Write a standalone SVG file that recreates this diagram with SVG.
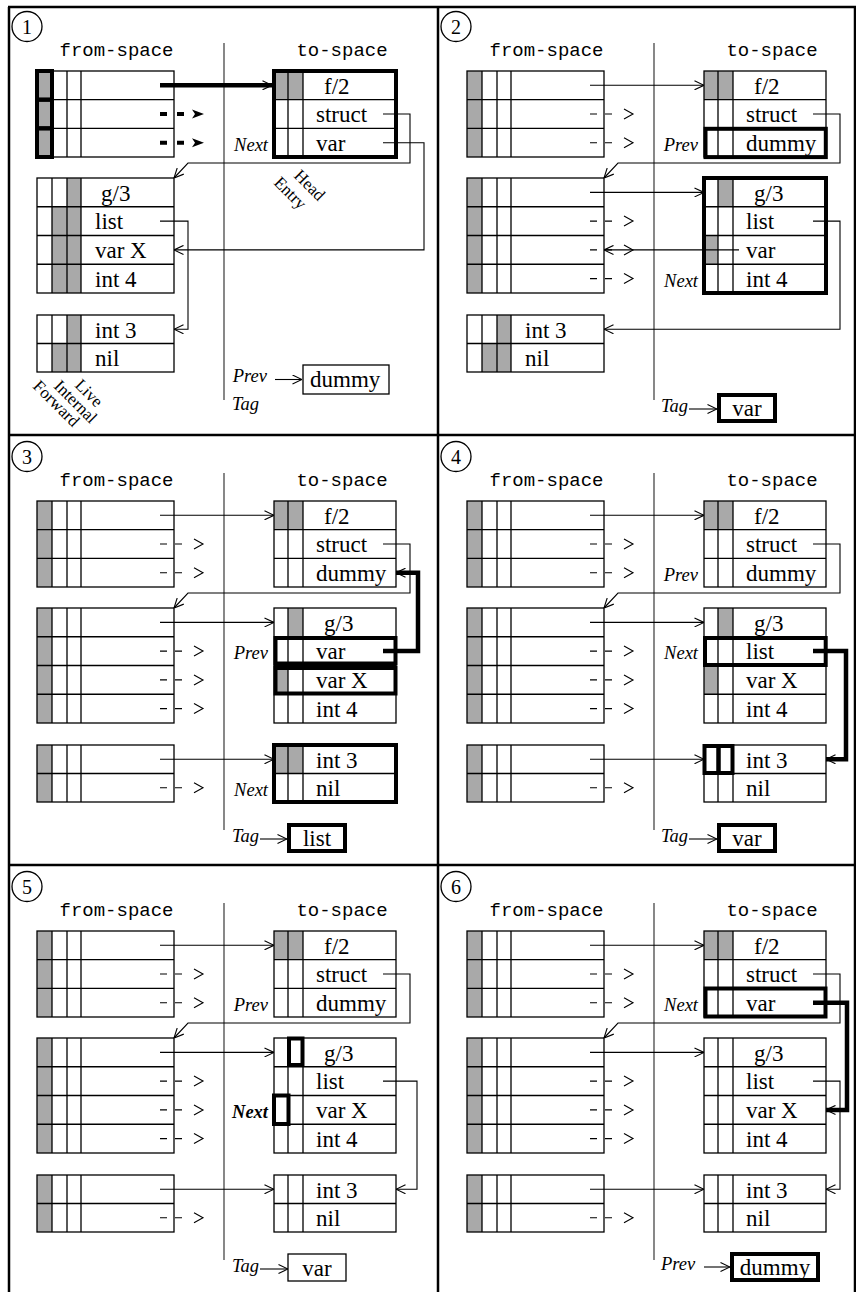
<svg xmlns="http://www.w3.org/2000/svg" width="856" height="1292" viewBox="0 0 856 1292">
<style>
.b{fill:none;stroke:#000;stroke-width:1.3}
.gy{fill:#a9a9a9;stroke:none}
.tk{fill:none;stroke:#000;stroke-width:4}
.ln{fill:none;stroke:#000;stroke-width:1.1}
.tkl{fill:none;stroke:#000;stroke-width:4.5}
.dv{stroke:#555;stroke-width:1.4}
.fr{fill:none;stroke:#000;stroke-width:2.5}
.ar{marker-end:url(#ah)}
text{fill:#000}
.m{font-family:"Liberation Mono","DejaVu Sans Mono",monospace;font-size:19px;text-anchor:middle}
.c{font-family:"Liberation Serif","Times New Roman",serif;font-size:23px}
.i{font-family:"Liberation Serif","Times New Roman",serif;font-size:18.5px;font-style:italic}
.e{text-anchor:end}
.mid{text-anchor:middle}
.bd{font-weight:bold}
.n{font-family:"Liberation Serif","Times New Roman",serif;font-size:20px;text-anchor:middle}
.r{font-family:"Liberation Serif","Times New Roman",serif;font-size:17px}
</style>
<defs>
<marker id="ah" viewBox="0 0 10 10" refX="10" refY="5" markerWidth="10" markerHeight="10" markerUnits="userSpaceOnUse" orient="auto"><path d="M0.5,0.5L10,5L0.5,9.5" fill="none" stroke="#000" stroke-width="1.1"/></marker>
<g id="fg3" class="b"><rect width="137" height="86"/><path d="M0,28.67H137M0,57.33H137M15,0V86M30,0V86M44,0V86"/></g>
<g id="fg4" class="b"><rect width="137" height="115"/><path d="M0,28.75H137M0,57.5H137M0,86.25H137M15,0V115M30,0V115M44,0V115"/></g>
<g id="fg2" class="b"><rect width="137" height="57"/><path d="M0,28.5H137M15,0V57M30,0V57M44,0V57"/></g>
<g id="tg3" class="b"><rect width="122" height="86"/><path d="M0,28.67H122M0,57.33H122M14,0V86M29,0V86"/></g>
<g id="tg4" class="b"><rect width="122" height="115"/><path d="M0,28.75H122M0,57.5H122M0,86.25H122M14,0V115M29,0V115"/></g>
<g id="tg2" class="b"><rect width="122" height="57"/><path d="M0,28.5H122M14,0V57M29,0V57"/></g>
<g id="fA"><rect class="gy" width="15" height="86"/><use href="#fg3"/></g>
<g id="fB"><rect class="gy" width="15" height="115"/><use href="#fg4"/></g>
<g id="fC"><rect class="gy" width="15" height="57"/><use href="#fg2"/></g>
<g id="t1"><rect class="gy" width="29" height="28.67"/><use href="#tg3"/></g>
<g id="da" class="ln"><path d="M160,0H167M175,0H182M194,-5L203,0L194,5"/></g>
<g id="bcAB">
<path class="ln ar" d="M160,85.3H274"/>
<use href="#da" y="114"/><use href="#da" y="142.7"/>
<path class="ln ar" d="M160,192.4H274"/>
<use href="#da" y="221.1"/><use href="#da" y="249.9"/><use href="#da" y="278.6"/>
<path class="ln ar" d="M383,114H410V163H188L174,178"/>
</g>
<g id="bcC">
<path class="ln ar" d="M160,329.25H274"/>
<use href="#da" y="357.75"/>
</g>
</defs>

<g id="frame"><path class="fr" d="M9,7V1292M438,7V1292M855,7V1292M8,7H856M8,435H856M8,865H856"/></g>

<!-- Panel 1 -->
<g id="panel1">
<g id="p1-num"><circle class="b" cx="27" cy="26.5" r="15"/><text class="n" x="27" y="33.5">1</text></g>
<g id="p1-heads"><text class="m" x="116.5" y="56">from-space</text><text class="m" x="342" y="56">to-space</text><line class="dv" x1="224" y1="43" x2="224" y2="400"/></g>
<g id="p1-fromA"><use href="#fA" x="37" y="71"/><rect class="tk" x="37" y="71" width="15" height="28.67"/><rect class="tk" x="37" y="99.67" width="15" height="28.66"/><rect class="tk" x="37" y="128.33" width="15" height="28.67"/></g>
<g id="p1-fromB"><rect class="gy" x="67" y="178" width="14" height="28.75"/><rect class="gy" x="52" y="206.75" width="29" height="86.25"/><use href="#fg4" x="37" y="178"/><text class="c" x="101" y="200.5">g/3</text><text class="c" x="95" y="229.25">list</text><text class="c" x="95" y="258">var X</text><text class="c" x="95" y="286.75">int 4</text></g>
<g id="p1-fromC"><rect class="gy" x="67" y="315" width="14" height="28.5"/><rect class="gy" x="52" y="343.5" width="29" height="28.5"/><use href="#fg2" x="37" y="315"/><text class="c" x="95" y="337.5">int 3</text><text class="c" x="95" y="366">nil</text></g>
<g id="p1-flags"><text class="r" transform="translate(32,387) rotate(45)">Forward</text><text class="r" transform="translate(53,387) rotate(45)">Internal</text><text class="r" transform="translate(74,386) rotate(45)">Live</text></g>
<g id="p1-to1"><use href="#t1" x="274" y="71"/><rect class="tk" x="274" y="71" width="122" height="86"/><text class="c" x="324" y="93.5">f/2</text><text class="c" x="316" y="122.2">struct</text><text class="c" x="316" y="150.8">var</text><text class="i e" x="268" y="150.8">Next</text></g>
<g id="p1-headentry"><text class="r" transform="translate(293,176.5) rotate(45)">Head</text><text class="r" transform="translate(273,183.5) rotate(45)">Entry</text></g>
<g id="p1-prev"><text class="i e" x="267" y="382">Prev</text></g>
<g id="p1-dummy"><rect class="b" x="303" y="365" width="86" height="29"/><text class="c" x="310" y="387">dummy</text></g>
<g id="p1-tag"><text class="i" x="232" y="410">Tag</text></g>
<g id="p1-conn">
<path class="tkl ar" d="M160,85.3H272"/>
<path class="tk" d="M160,114H167M177,114H184M160,142.7H167M177,142.7H184"/>
<path d="M192,109.5L204,114L192,118.5L195,114ZM192,138.2L204,142.7L192,147.2L195,142.7Z" fill="#000"/>
<path class="ln ar" d="M383,114H410V163H188L174,178"/>
<path class="ln ar" d="M383,142.7H424V249.9H174"/>
<path class="ln ar" d="M160,221.1H188V329.25H174"/>
<path class="ln ar" d="M275,379.5H302"/>
</g>
</g>

<!-- Panel 2 -->
<g id="panel2" transform="translate(430,0)">
<g id="p2-num"><circle class="b" cx="26" cy="26.5" r="15"/><text class="n" x="26" y="33.5">2</text></g>
<g id="p2-heads"><text class="m" x="116.5" y="56">from-space</text><text class="m" x="342" y="56">to-space</text><line class="dv" x1="224" y1="43" x2="224" y2="400"/></g>
<g id="p2-fromA"><use href="#fA" x="37" y="71"/></g>
<g id="p2-fromB"><use href="#fB" x="37" y="178"/></g>
<g id="p2-fromC"><rect class="gy" x="67" y="315" width="14" height="28.5"/><rect class="gy" x="52" y="343.5" width="29" height="28.5"/><use href="#fg2" x="37" y="315"/><text class="c" x="95" y="337.5">int 3</text><text class="c" x="95" y="366">nil</text></g>
<g id="p2-to1"><use href="#t1" x="274" y="71"/><rect class="tk" x="275.5" y="128.8" width="120.3" height="28.3"/><text class="c" x="324" y="93.5">f/2</text><text class="c" x="316" y="122.2">struct</text><text class="c" x="316" y="150.8">dummy</text><text class="i e" x="268" y="150.8">Prev</text></g>
<g id="p2-to2"><rect class="gy" x="288" y="178" width="15" height="28.75"/><rect class="gy" x="274" y="235.5" width="14" height="28.75"/><use href="#tg4" x="274" y="178"/><rect class="tk" x="274" y="178" width="122" height="115"/><text class="c" x="324" y="200.5">g/3</text><text class="c" x="316" y="229.25">list</text><text class="c" x="316" y="258">var</text><text class="c" x="316" y="286.75">int 4</text><text class="i e" x="268" y="286.75">Next</text></g>
<g id="p2-tag"><text class="i" x="231" y="412">Tag</text></g>
<g id="p2-tagbox"><rect class="tk" x="289" y="395" width="56" height="26"/><text class="c mid" x="317" y="416">var</text></g>
<g id="p2-conn">
<use href="#bcAB"/>
<path class="ln ar" d="M309,249.9H174"/>
<path class="ln ar" d="M383,221.1H410V329.25H174"/>
<path class="ln ar" d="M259,409H287"/>
</g>
</g>

<!-- Panel 3 -->
<g id="panel3" transform="translate(0,430)">
<g id="p3-num"><circle class="b" cx="27" cy="26.5" r="15"/><text class="n" x="27" y="33.5">3</text></g>
<g id="p3-heads"><text class="m" x="116.5" y="56">from-space</text><text class="m" x="342" y="56">to-space</text><line class="dv" x1="224" y1="43" x2="224" y2="400"/></g>
<g id="p3-fromA"><use href="#fA" x="37" y="71"/></g>
<g id="p3-fromB"><use href="#fB" x="37" y="178"/></g>
<g id="p3-fromC"><use href="#fC" x="37" y="315"/></g>
<g id="p3-to1"><use href="#t1" x="274" y="71"/><text class="c" x="324" y="93.5">f/2</text><text class="c" x="316" y="122.2">struct</text><text class="c" x="316" y="150.8">dummy</text></g>
<g id="p3-to2"><rect class="gy" x="288" y="178" width="15" height="28.75"/><rect class="gy" x="274" y="235.5" width="14" height="28.75"/><use href="#tg4" x="274" y="178"/><rect class="tk" x="275.5" y="208" width="120" height="25.5"/><rect class="tk" x="275.5" y="238" width="120" height="25.5"/><text class="c" x="324" y="200.5">g/3</text><text class="c" x="316" y="229.25">var</text><text class="c" x="316" y="258">var X</text><text class="c" x="316" y="286.75">int 4</text><text class="i e" x="268" y="229.25">Prev</text></g>
<g id="p3-to3"><rect class="gy" x="274" y="315" width="29" height="28.5"/><use href="#tg2" x="274" y="315"/><rect class="tk" x="274" y="315" width="122" height="57"/><text class="c" x="316" y="337.5">int 3</text><text class="c" x="316" y="366">nil</text><text class="i e" x="268" y="366">Next</text></g>
<g id="p3-tag"><text class="i" x="232" y="412">Tag</text></g>
<g id="p3-tagbox"><rect class="tk" x="289" y="395" width="56" height="26"/><text class="c mid" x="317" y="416">list</text></g>
<g id="p3-conn">
<use href="#bcAB"/><use href="#bcC"/>
<path class="tkl ar" d="M383,221.1H418V142.7H396"/>
<path class="ln ar" d="M260,409H287"/>
</g>
</g>

<!-- Panel 4 -->
<g id="panel4" transform="translate(430,430)">
<g id="p4-num"><circle class="b" cx="26" cy="26.5" r="15"/><text class="n" x="26" y="33.5">4</text></g>
<g id="p4-heads"><text class="m" x="116.5" y="56">from-space</text><text class="m" x="342" y="56">to-space</text><line class="dv" x1="224" y1="43" x2="224" y2="400"/></g>
<g id="p4-fromA"><use href="#fA" x="37" y="71"/></g>
<g id="p4-fromB"><use href="#fB" x="37" y="178"/></g>
<g id="p4-fromC"><use href="#fC" x="37" y="315"/></g>
<g id="p4-to1"><use href="#t1" x="274" y="71"/><text class="c" x="324" y="93.5">f/2</text><text class="c" x="316" y="122.2">struct</text><text class="c" x="316" y="150.8">dummy</text><text class="i e" x="268" y="150.8">Prev</text></g>
<g id="p4-to2"><rect class="gy" x="288" y="178" width="15" height="28.75"/><rect class="gy" x="274" y="235.5" width="14" height="28.75"/><use href="#tg4" x="274" y="178"/><rect class="tk" x="275" y="208" width="120.7" height="27"/><text class="c" x="324" y="200.5">g/3</text><text class="c" x="316" y="229.25">list</text><text class="c" x="316" y="258">var X</text><text class="c" x="316" y="286.75">int 4</text><text class="i e" x="268" y="229.25">Next</text></g>
<g id="p4-to3"><use href="#tg2" x="274" y="315"/><rect class="tk" x="274.5" y="316" width="14" height="27"/><rect class="tk" x="288.5" y="316" width="14" height="27"/><text class="c" x="316" y="337.5">int 3</text><text class="c" x="316" y="366">nil</text></g>
<g id="p4-tag"><text class="i" x="231" y="412">Tag</text></g>
<g id="p4-tagbox"><rect class="tk" x="289" y="395" width="56" height="26"/><text class="c mid" x="317" y="416">var</text></g>
<g id="p4-conn">
<use href="#bcAB"/><use href="#bcC"/>
<path class="tkl ar" d="M383,221.1H416V329.25H396"/>
<path class="ln ar" d="M259,409H287"/>
</g>
</g>

<!-- Panel 5 -->
<g id="panel5" transform="translate(0,860)">
<g id="p5-num"><circle class="b" cx="27" cy="26.5" r="15"/><text class="n" x="27" y="33.5">5</text></g>
<g id="p5-heads"><text class="m" x="116.5" y="56">from-space</text><text class="m" x="342" y="56">to-space</text><line class="dv" x1="224" y1="43" x2="224" y2="400"/></g>
<g id="p5-fromA"><use href="#fA" x="37" y="71"/></g>
<g id="p5-fromB"><use href="#fB" x="37" y="178"/></g>
<g id="p5-fromC"><use href="#fC" x="37" y="315"/></g>
<g id="p5-to1"><use href="#t1" x="274" y="71"/><text class="c" x="324" y="93.5">f/2</text><text class="c" x="316" y="122.2">struct</text><text class="c" x="316" y="150.8">dummy</text><text class="i e" x="268" y="150.8">Prev</text></g>
<g id="p5-to2"><use href="#tg4" x="274" y="178"/><rect class="tk" x="289" y="178.5" width="13.5" height="26.5"/><rect class="tk" x="274" y="235.5" width="14.5" height="28.5"/><text class="c" x="324" y="200.5">g/3</text><text class="c" x="316" y="229.25">list</text><text class="c" x="316" y="258">var X</text><text class="c" x="316" y="286.75">int 4</text><text class="i e bd" x="268" y="258">Next</text></g>
<g id="p5-to3"><use href="#tg2" x="274" y="315"/><text class="c" x="316" y="337.5">int 3</text><text class="c" x="316" y="366">nil</text></g>
<g id="p5-tag"><text class="i" x="232" y="412">Tag</text></g>
<g id="p5-tagbox"><rect class="b" x="288" y="394" width="58" height="27"/><text class="c mid" x="317" y="416">var</text></g>
<g id="p5-conn">
<use href="#bcAB"/><use href="#bcC"/>
<path class="ln ar" d="M383,221.1H417V329.25H396"/>
<path class="ln ar" d="M260,409H288"/>
</g>
</g>

<!-- Panel 6 -->
<g id="panel6" transform="translate(430,860)">
<g id="p6-num"><circle class="b" cx="26" cy="26.5" r="15"/><text class="n" x="26" y="33.5">6</text></g>
<g id="p6-heads"><text class="m" x="116.5" y="56">from-space</text><text class="m" x="342" y="56">to-space</text><line class="dv" x1="224" y1="43" x2="224" y2="400"/></g>
<g id="p6-fromA"><use href="#fA" x="37" y="71"/></g>
<g id="p6-fromB"><use href="#fB" x="37" y="178"/></g>
<g id="p6-fromC"><use href="#fC" x="37" y="315"/></g>
<g id="p6-to1"><use href="#t1" x="274" y="71"/><rect class="tk" x="275.5" y="128.5" width="120" height="28"/><text class="c" x="324" y="93.5">f/2</text><text class="c" x="316" y="122.2">struct</text><text class="c" x="316" y="150.8">var</text><text class="i e" x="268" y="150.8">Next</text></g>
<g id="p6-to2"><use href="#tg4" x="274" y="178"/><text class="c" x="324" y="200.5">g/3</text><text class="c" x="316" y="229.25">list</text><text class="c" x="316" y="258">var X</text><text class="c" x="316" y="286.75">int 4</text></g>
<g id="p6-to3"><use href="#tg2" x="274" y="315"/><text class="c" x="316" y="337.5">int 3</text><text class="c" x="316" y="366">nil</text></g>
<g id="p6-prev"><text class="i" x="231" y="410">Prev</text></g>
<g id="p6-dummy"><rect class="tk" x="302" y="394" width="86" height="26"/><text class="c mid" x="345" y="415">dummy</text></g>
<g id="p6-conn">
<use href="#bcAB"/><use href="#bcC"/>
<path class="tkl ar" d="M383,142.7H417V249.9H396"/>
<path class="ln ar" d="M383,221.1H410V329.25H396"/>
<path class="ln ar" d="M274,407H300"/>
</g>
</g>
</svg>
